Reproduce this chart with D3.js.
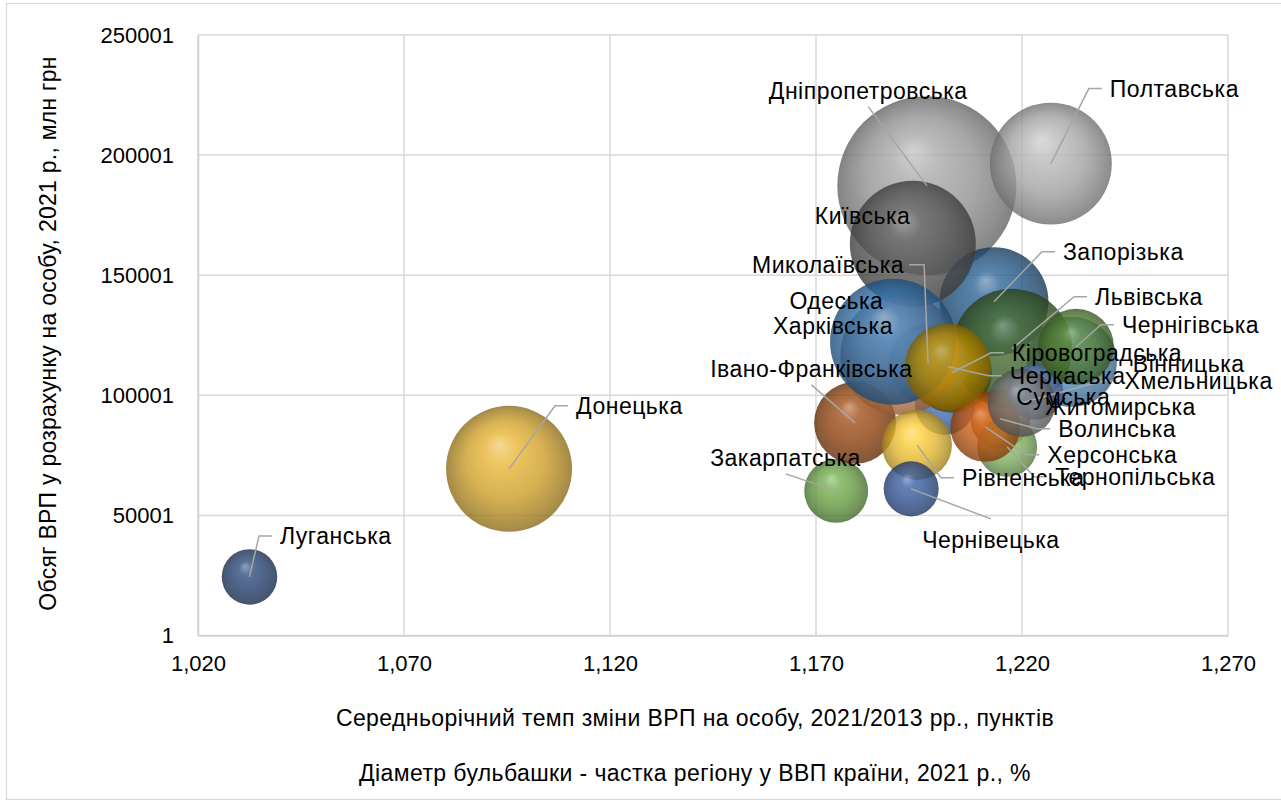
<!DOCTYPE html>
<html>
<head>
<meta charset="utf-8">
<script src="https://cdn.jsdelivr.net/npm/d3@7"></script>
<style>
  html, body { margin: 0; padding: 0; background: #fff; }
  svg { display: block; font-family: "Liberation Sans", Arial, sans-serif; }
</style>
</head>
<body>
<svg id="chart" width="1281" height="802"></svg>
<script>
// Регіони України
const regions = [
  "Вінницька", "Волинська", "Дніпропетровська", "Донецька", "Житомирська", "Закарпатська",
  "Запорізька", "Івано-Франківська", "Київська", "Кіровоградська", "Луганська", "Львівська",
  "Миколаївська", "Одеська", "Полтавська", "Рівненська", "Сумська", "Тернопільська",
  "Харківська", "Херсонська", "Хмельницька", "Черкаська", "Чернівецька", "Чернігівська"
];
// Середньорічний темп зміни ВРП на особу, 2021/2013
const growth = [
  1.2321, 1.2147, 1.1969, 1.0955, 1.2013, 1.1749,
  1.2132, 1.1795, 1.1935, 1.2030, 1.0325, 1.2176,
  1.1972, 1.1905, 1.2270, 1.1945, 1.2232, 1.2164,
  1.1887, 1.2111, 1.2199, 1.2020, 1.1931, 1.2331
];
// ВРП у розрахунку на особу, 2021 р.
const gdpPerCapita = [
  113958, 90208, 187292, 69375, 96042, 60208,
  138958, 88542, 163125, 109375, 24375, 119375,
  113125, 116875, 196458, 79375, 101458, 78542,
  122292, 86875, 96875, 111875, 61042, 120208
];
// Частка регіону у ВВП країни, 2021 р., %
const gdpShare = [
  2.76, 1.22, 10.9, 5.40, 1.22, 1.39,
  4.04, 2.29, 5.40, 2.18, 1.05, 4.90,
  2.18, 4.90, 5.06, 1.67, 1.07, 1.22,
  5.40, 1.67, 1.57, 2.52, 1.03, 1.96
];
const xTicks = [1.02, 1.07, 1.12, 1.17, 1.22, 1.27];
const yTicks = [1, 50001, 100001, 150001, 200001, 250001];

const xTitle = "Середньорічний темп зміни ВРП на особу, 2021/2013 рр., пунктів";
const bubbleNote = "Діаметр бульбашки - частка регіону у ВВП країни, 2021 р., %";
const yTitle = "Обсяг ВРП у розрахунку на особу, 2021 р., млн грн";

// Кольори точок (тема Office, варіація за точками)
const palette = [
  "#5B9BD5", "#ED7D31", "#A5A5A5", "#E8B22C", "#4472C4", "#70AD47",
  "#255E91", "#9E480E", "#636363", "#997300", "#264478", "#43682B",
  "#7CAFDD", "#F1975A", "#B7B7B7", "#FFCD33", "#698ED0", "#8CC168",
  "#327DC2", "#D26012", "#848484", "#CC9A00", "#335AA1", "#5A8A39"
];

// Розміщення підписів: зсув лівого краю тексту від центру бульбашки та тип виноски
// r — виноска ліворуч від тексту, l — праворуч, b — від низу тексту, t — від верху, "" — без виноски
const labelLayout = [
  [61, 2, ""], [58, 10, "r"], [-158, -95, "b"], [67, -63, "r"], [100, 2, ""], [-126, -33, "b"],
  [69, -50, "r"], [-145, -54, "b"], [-98, -28, ""], [60, -20, "r"], [30.5, -41, "r"], [83, -52, "r"],
  [-176, -99, "l"], [-111, -54, ""], [59, -75, "r"], [45, 33, "r"], [-19, 5, ""], [48, 30, "r"],
  [-120, -16, ""], [62, 28, "r"], [103, -22, "r"], [62, 9, "r"], [11, 51, "t"], [46, -22, "r"]
];

const svg = d3.select("#chart");
const W = 1281, H = 802;
const plot = { left: 198, right: 1228, top: 35, bottom: 635.5 };
const FONT = 23, SPACING = 0.5;

// рамка області діаграми
svg.append("rect")
  .attr("x", 6.5).attr("y", 3.5).attr("width", W + 10).attr("height", H - 6)
  .attr("fill", "#fff").attr("stroke", "#d9d9d9").attr("stroke-width", 1.2);

const x = d3.scaleLinear().domain([1.02, 1.27]).range([plot.left, plot.right]);
const y = d3.scaleLinear().domain([1, 250001]).range([plot.bottom, plot.top]);
const r = d3.scaleSqrt().domain([0, 10.9]).range([0, 89.5]);

const fmtX = v => d3.format(".3f")(v).replace(".", ",");

// сітка
const grid = svg.append("g");
grid.selectAll("line.v").data(xTicks).join("line")
  .attr("x1", d => x(d)).attr("x2", d => x(d))
  .attr("y1", plot.top).attr("y2", plot.bottom)
  .attr("stroke", "#d9d9d9").attr("stroke-width", 1.5);
grid.selectAll("line.h").data(yTicks).join("line")
  .attr("x1", plot.left).attr("x2", plot.right)
  .attr("y1", d => y(d)).attr("y2", d => y(d))
  .attr("stroke", "#d9d9d9").attr("stroke-width", 1.5);

// осі
const xAxis = svg.append("g")
  .attr("transform", `translate(0,${plot.bottom})`)
  .call(d3.axisBottom(x).tickValues(xTicks).tickFormat(fmtX).tickSize(0).tickPadding(20));
const yAxis = svg.append("g")
  .attr("transform", `translate(${plot.left},0)`)
  .call(d3.axisLeft(y).tickValues(yTicks).tickFormat(d3.format("d")).tickSize(0).tickPadding(24));
[xAxis, yAxis].forEach(g => {
  g.select(".domain").attr("stroke", "#cfcfcf").attr("stroke-width", 1.5);
  g.selectAll("text").attr("font-size", 22).attr("fill", "#000")
    .attr("font-family", "Liberation Sans, Arial, sans-serif");
});

// градієнти «сфера»
const defs = svg.append("defs");
palette.forEach((c, i) => {
  const g = defs.append("radialGradient").attr("id", "sph" + i)
    .attr("cx", "50%").attr("cy", "50%").attr("r", "50%")
    .attr("fx", "42%").attr("fy", "30%");
  const light = d3.interpolateRgb(c, "#ffffff");
  const dark = d3.interpolateRgb(c, "#000000");
  g.append("stop").attr("offset", "0%").attr("stop-color", light(0.38));
  g.append("stop").attr("offset", "25%").attr("stop-color", light(0.05));
  g.append("stop").attr("offset", "62%").attr("stop-color", dark(0.12));
  g.append("stop").attr("offset", "88%").attr("stop-color", dark(0.3));
  g.append("stop").attr("offset", "100%").attr("stop-color", dark(0.4));
});

const data = regions.map((name, i) => ({
  name, i, gx: growth[i], gy: gdpPerCapita[i], share: gdpShare[i],
  lay: labelLayout[i]
}));

// бульбашки
svg.append("g").selectAll("circle").data(data).join("circle")
  .attr("cx", d => x(d.gx)).attr("cy", d => y(d.gy)).attr("r", d => r(d.share))
  .attr("fill", d => `url(#sph${d.i})`).attr("fill-opacity", 0.8);

// підписи
const labelG = svg.append("g");
const leaderG = labelG.append("g");
const texts = labelG.selectAll("text").data(data).join("text")
  .attr("x", d => x(d.gx) + d.lay[0])
  .attr("y", d => y(d.gy) + d.lay[1])
  .attr("dy", "0.36em")
  .attr("font-size", FONT).attr("letter-spacing", SPACING).attr("fill", "#000")
  .text(d => d.name);

texts.each(function (d) {
  const type = d.lay[2];
  if (!type) return;
  const bb = this.getBBox();
  const cx = x(d.gx), cy = y(d.gy);
  const my = y(d.gy) + d.lay[1];
  let pts;
  if (type === "r") {
    const a = bb.x - 8;
    pts = [[a, my], [a - 13, my], [cx, cy]];
  } else if (type === "l") {
    const a = bb.x + bb.width + 5;
    pts = [[a, my], [a + 15, my], [cx, cy]];
  } else if (type === "b") {
    pts = [[bb.x + bb.width / 2, my + 16], [cx, cy]];
  } else {
    pts = [[bb.x + bb.width / 2, my - 21], [cx, cy]];
  }
  leaderG.append("path")
    .attr("d", d3.line()(pts))
    .attr("fill", "none").attr("stroke", "#a6a6a6").attr("stroke-width", 1.5);
});

// назви осей
svg.append("text")
  .attr("x", 695).attr("y", 718).attr("dy", "0.36em")
  .attr("text-anchor", "middle").attr("font-size", FONT).attr("letter-spacing", 0.4).text(xTitle);
svg.append("text")
  .attr("x", 695).attr("y", 773).attr("dy", "0.36em")
  .attr("text-anchor", "middle").attr("font-size", FONT).attr("letter-spacing", 0.4).text(bubbleNote);
svg.append("text")
  .attr("transform", "translate(48,333.5) rotate(-90)")
  .attr("dy", "0.36em")
  .attr("text-anchor", "middle").attr("font-size", FONT).attr("letter-spacing", 0.25).text(yTitle);
</script>
</body>
</html>
